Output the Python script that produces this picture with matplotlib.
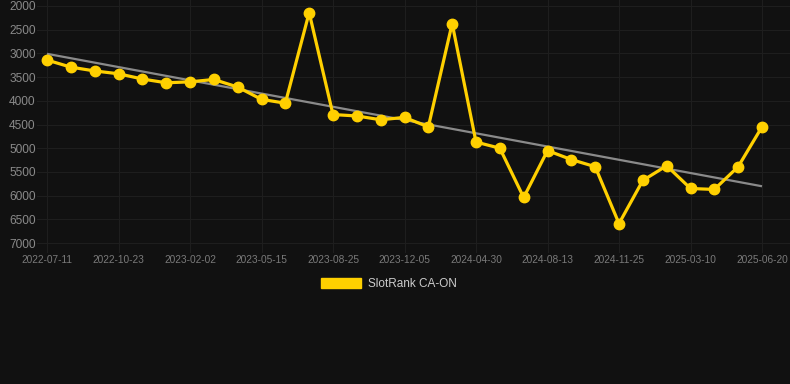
import matplotlib
matplotlib.use("Agg")
import matplotlib.pyplot as plt
from matplotlib.patches import Patch
import numpy as np

plt.rcParams['font.family'] = ['Liberation Sans', 'DejaVu Sans']

# Data
ranks = [3140, 3290, 3370, 3430, 3540, 3620, 3600, 3550, 3710, 3970,
         4050, 2140, 4290, 4320, 4400, 4350, 4550, 2370, 4870, 5000,
         6040, 5050, 5240, 5390, 6590, 5680, 5370, 5850, 5870, 5390, 4550]
tick_labels = ['2022-07-11', '2022-10-23', '2023-02-02', '2023-05-15',
               '2023-08-25', '2023-12-05', '2024-04-30', '2024-08-13',
               '2024-11-25', '2025-03-10', '2025-06-20']
y_ticks = [2000, 2500, 3000, 3500, 4000, 4500, 5000, 5500, 6000, 6500, 7000]
series_name = 'SlotRank CA-ON'

BG = '#111111'
GOLD = '#FFD000'

W, H = 790, 384
fig = plt.figure(figsize=(W / 100, H / 100), dpi=100, facecolor=BG)

# axes: left 37px, right 790px, top 0px, bottom 253px
ax = fig.add_axes([37 / W, 1 - 253 / H, (790 - 37) / W, 253 / H], facecolor=BG)

x = np.arange(len(ranks))
n = len(ranks) - 1
ppu = (762 - 47) / n
ax.set_xlim(-(47 - 37) / ppu, n + (790 - 762) / ppu)
ppy = (243 - 6) / 5000
ax.set_ylim(7000 + 10 / ppy, 2000 - 6 / ppy)

# trend line
coef = np.polyfit(x, ranks, 1)
ax.plot([x[0], x[-1]], np.polyval(coef, [x[0], x[-1]]), color='#8a8a8a',
        lw=1.6, zorder=2, solid_capstyle='butt')

ax.plot(x, ranks, color=GOLD, lw=2.3, marker='o', markersize=7.5,
        markerfacecolor=GOLD, markeredgecolor=GOLD, zorder=3)

ax.set_yticks(y_ticks)
ax.set_yticklabels([str(v) for v in y_ticks])
ax.set_xticks(x[::3])
ax.set_xticklabels(tick_labels)

ax.grid(True, color='#1e1e1e', lw=0.8, zorder=0)
ax.tick_params(axis='both', length=0, colors='#8a8a8a')
ax.tick_params(axis='y', labelsize=8.6, pad=1)
ax.tick_params(axis='x', labelsize=7.3, pad=1.5, colors='#7a7a7a')
for s in ax.spines.values():
    s.set_visible(False)

handle = Patch(facecolor=GOLD, edgecolor=GOLD, label=series_name)
leg = fig.legend(handles=[handle], loc='center', bbox_to_anchor=(389 / W, 1 - 284 / H),
                 frameon=False, fontsize=8.5, handlelength=3.4, handleheight=1.0,
                 handletextpad=0.6, labelcolor='#cccccc')

fig.savefig('out.png', dpi=100, facecolor=BG)
